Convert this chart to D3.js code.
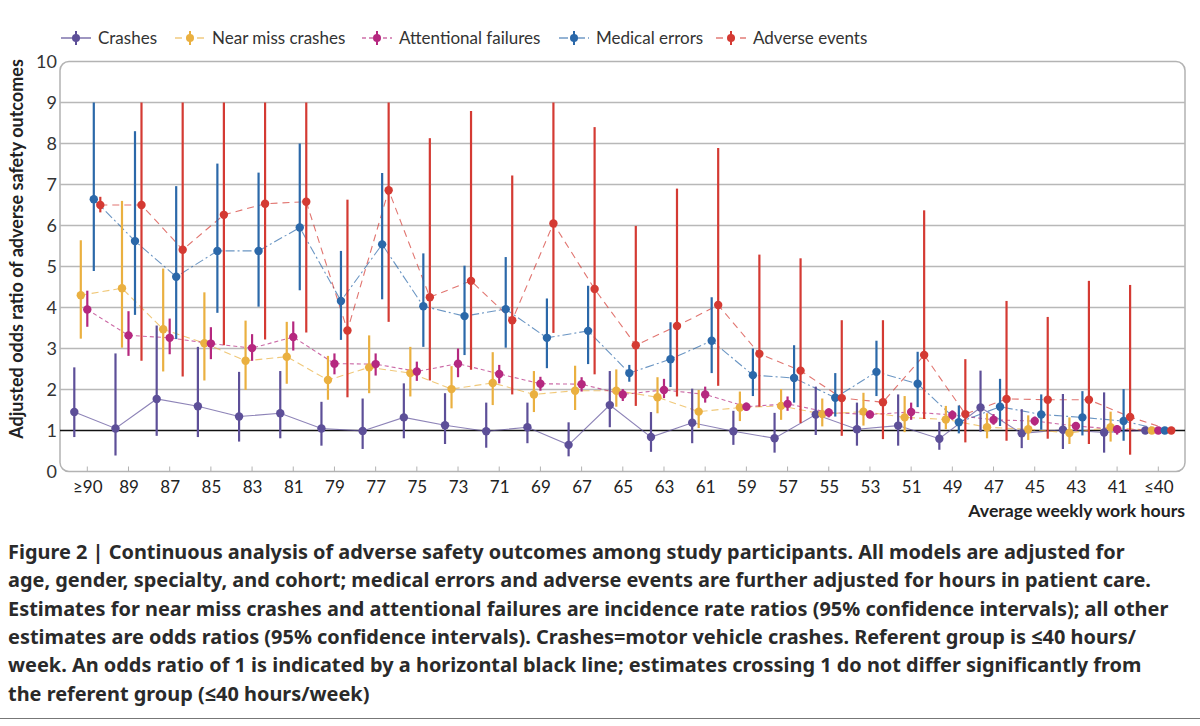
<!DOCTYPE html>
<html>
<head>
<meta charset="utf-8">
<script src="https://cdn.jsdelivr.net/npm/d3@7"></script>
<style>
  html, body { margin: 0; padding: 0; background: #fff; }
  svg { display: block; }
  text { font-family: Lato, "Open Sans", sans-serif; }
</style>
</head>
<body>
<svg id="chart" width="1200" height="726"></svg>
<script>
// ---- data ----
const categories = ["≥90","89","87","85","83","81","79","77","75","73","71","69","67","65","63","61","59","57","55","53","51","49","47","45","43","41","≤40"];
const yTicks = [0,1,2,3,4,5,6,7,8,9,10];
const seriesNames = ["Crashes","Near miss crashes","Attentional failures","Medical errors","Adverse events"];

const crashesEst = [1.45,1.05,1.77,1.59,1.34,1.42,1.05,0.99,1.32,1.13,0.98,1.08,0.65,1.62,0.84,1.19,0.98,0.81,1.39,1.03,1.12,0.80,1.56,0.93,1.02,0.95,1.00];
const crashesLo  = [0.84,0.39,0.87,0.84,0.73,0.81,0.63,0.55,0.81,0.67,0.58,0.69,0.37,1.08,0.48,0.69,0.65,0.46,0.89,0.63,0.63,0.53,0.97,0.57,0.55,0.46,null];
const crashesHi  = [2.54,2.88,3.56,3.04,2.43,2.45,1.70,1.78,2.15,1.91,1.68,1.68,1.20,2.45,1.45,2.02,1.48,1.43,2.07,1.68,1.88,1.21,2.46,1.52,1.89,1.93,null];

const nearMissEst = [4.30,4.47,3.47,3.13,2.70,2.80,2.23,2.54,2.40,2.01,2.16,1.88,1.97,1.97,1.81,1.46,1.56,1.60,1.40,1.46,1.32,1.27,1.08,1.03,0.94,1.08,1.00];
const nearMissLo  = [3.24,3.02,2.44,2.22,1.99,2.14,1.75,1.91,1.83,1.54,1.62,1.45,1.50,1.58,1.42,1.06,1.23,1.26,1.10,1.12,0.96,1.03,0.81,0.77,0.67,0.73,null];
const nearMissHi  = [5.64,6.60,4.95,4.37,3.68,3.65,2.82,3.32,3.04,2.57,2.91,2.45,2.58,2.49,2.30,1.99,1.95,2.01,1.78,1.92,1.84,1.60,1.42,1.37,1.32,1.46,null];

const attentionEst = [3.95,3.32,3.26,3.12,3.01,3.28,2.63,2.62,2.44,2.63,2.38,2.14,2.13,1.88,1.99,1.88,1.58,1.65,1.44,1.39,1.45,1.38,1.26,1.23,1.11,1.03,1.00];
const attentionLo  = [3.53,2.82,2.86,2.74,2.70,2.95,2.37,2.34,2.21,2.30,2.15,1.97,1.95,1.72,1.79,1.68,1.49,1.48,1.32,1.30,1.26,1.26,1.14,1.12,1.00,0.90,null];
const attentionHi  = [4.41,3.91,3.73,3.52,3.35,3.66,2.88,2.88,2.68,3.00,2.60,2.31,2.30,2.01,2.26,2.07,1.68,1.83,1.54,1.49,1.68,1.49,1.40,1.34,1.20,1.13,null];

const medicalEst = [6.64,5.62,4.75,5.38,5.38,5.95,4.16,5.54,4.03,3.79,3.96,3.26,3.43,2.40,2.74,3.19,2.35,2.28,1.80,2.43,2.14,1.20,1.58,1.39,1.32,1.23,1.00];
const medicalLo  = [4.89,3.82,3.23,3.87,4.02,4.42,3.21,4.20,3.04,2.84,3.02,2.52,2.62,2.19,2.06,2.40,1.84,1.68,1.34,1.84,1.57,0.93,1.11,1.02,0.88,0.75,null];
const medicalHi  = [9.00,8.30,6.96,7.51,7.29,8.00,5.38,7.28,5.32,5.02,5.23,4.22,4.53,2.60,3.64,4.25,3.00,3.08,2.40,3.19,2.92,1.61,2.26,1.88,1.96,2.01,null];

const adverseEst = [6.50,6.50,5.41,6.26,6.53,6.58,3.44,6.86,4.25,4.65,3.69,6.05,4.45,3.08,3.55,4.06,2.87,2.46,1.79,1.69,2.84,1.40,1.77,1.75,1.75,1.33,1.00];
const adverseLo  = [6.32,2.70,2.32,3.08,3.22,3.39,1.81,3.65,2.22,2.48,1.88,3.38,2.37,1.60,1.83,2.09,1.58,1.18,0.87,0.79,1.28,0.71,0.75,0.80,0.67,0.41,null];
const adverseHi  = [6.70,9.00,9.00,9.00,9.00,9.00,6.63,9.00,8.13,8.79,7.22,9.00,8.40,5.99,6.90,7.89,5.29,5.20,3.69,3.69,6.37,2.74,4.16,3.77,4.65,4.55,null];

const captionLines = [
  "Figure 2 | Continuous analysis of adverse safety outcomes among study participants. All models are adjusted for",
  "age, gender, specialty, and cohort; medical errors and adverse events are further adjusted for hours in patient care.",
  "Estimates for near miss crashes and attentional failures are incidence rate ratios (95% confidence intervals); all other",
  "estimates are odds ratios (95% confidence intervals). Crashes=motor vehicle crashes. Referent group is ≤40 hours/",
  "week. An odds ratio of 1 is indicated by a horizontal black line; estimates crossing 1 do not differ significantly from",
  "the referent group (≤40 hours/week)"
];

// ---- styles ----
const colors = ["#5d4f98","#eab040","#b5287f","#2b68a9","#d43a33"];
const dashes = [null,"7,4","4,3","9,3,2,3","7,5"];
const offsets = [-13,-6.5,0,6.5,13];

const series = [
  {est: crashesEst, lo: crashesLo, hi: crashesHi},
  {est: nearMissEst, lo: nearMissLo, hi: nearMissHi},
  {est: attentionEst, lo: attentionLo, hi: attentionHi},
  {est: medicalEst, lo: medicalLo, hi: medicalHi},
  {est: adverseEst, lo: adverseLo, hi: adverseHi}
].map((s, i) => ({
  name: seriesNames[i], color: colors[i], dash: dashes[i], off: offsets[i],
  points: categories.map((c, j) => ({cat: c, est: s.est[j], lo: s.lo[j], hi: s.hi[j]}))
}));

const svg = d3.select("#chart");
svg.append("rect").attr("width",1200).attr("height",726).attr("fill","#fff");

const L = 60, R = 1185, T = 61.5, B = 471.5;
const x = d3.scalePoint().domain(categories).range([87.3, 1158.3]);
const y = d3.scaleLinear().domain([0,10]).range([B, T]);

// frame
svg.append("rect").attr("x",L).attr("y",T).attr("width",R-L).attr("height",B-T)
  .attr("rx",9).attr("fill","none").attr("stroke","#b3b3b3").attr("stroke-width",1.5);

// gridlines
svg.append("g").selectAll("line").data(yTicks.filter(v => v > 0 && v < 10)).join("line")
  .attr("x1",L).attr("x2",R).attr("y1",d=>y(d)).attr("y2",d=>y(d))
  .attr("stroke",d => d===1 ? "#111" : "#b8b8b8").attr("stroke-width",1.5);

// y axis labels
const yAxis = d3.axisLeft(y).tickValues(yTicks).tickSize(0).tickPadding(0).tickFormat(d3.format("d"));
const gy = svg.append("g").attr("transform",`translate(${L-3},0)`).call(yAxis);
gy.select(".domain").remove();
gy.selectAll("text").attr("font-size",18).attr("fill","#333").attr("font-family","Lato, sans-serif");

// x axis labels
const xAxis = d3.axisBottom(x).tickSize(0).tickPadding(0);
const gx = svg.append("g").attr("transform",`translate(0,${B+9})`).call(xAxis);
gx.select(".domain").remove();
gx.selectAll("text").attr("font-size",17).attr("fill","#222").attr("font-family","Lato, sans-serif");

// small ticks on bottom frame
svg.append("g").selectAll("line").data(categories).join("line")
  .attr("x1",d=>x(d)).attr("x2",d=>x(d)).attr("y1",B-5).attr("y2",B)
  .attr("stroke","#b3b3b3").attr("stroke-width",1);

// connecting lines
const lineGen = d3.line().x(d=>d.x).y(d=>y(d.est));
series.forEach(s => {
  const pts = s.points.map(p => ({x: x(p.cat) + s.off, est: p.est}));
  svg.append("path").datum(pts).attr("d", lineGen)
    .attr("fill","none").attr("stroke", s.color).attr("stroke-width",1.1)
    .attr("stroke-opacity",0.7).attr("stroke-dasharray", s.dash);
});

// error bars and points
series.forEach(s => {
  const g = svg.append("g");
  g.selectAll("line").data(s.points.filter(p => p.lo != null)).join("line")
    .attr("x1",p=>x(p.cat)+s.off).attr("x2",p=>x(p.cat)+s.off)
    .attr("y1",p=>y(p.lo)).attr("y2",p=>y(p.hi))
    .attr("stroke",s.color).attr("stroke-width",2.2);
  g.selectAll("circle").data(s.points).join("circle")
    .attr("cx",p=>x(p.cat)+s.off).attr("cy",p=>y(p.est)).attr("r",4.2)
    .attr("fill",s.color);
});

// legend
const legendX = [76, 190, 377, 574, 731];
const lg = svg.append("g");
series.forEach((s, i) => {
  const cx = legendX[i], cy = 38;
  lg.append("line").attr("x1",cx-15).attr("x2",cx+15).attr("y1",cy).attr("y2",cy)
    .attr("stroke",s.color).attr("stroke-width",1.2).attr("stroke-dasharray",s.dash);
  lg.append("line").attr("x1",cx).attr("x2",cx).attr("y1",cy-7).attr("y2",cy+7)
    .attr("stroke",s.color).attr("stroke-width",2);
  lg.append("circle").attr("cx",cx).attr("cy",cy).attr("r",4).attr("fill",s.color);
  lg.append("text").attr("x",cx+22).attr("y",cy).attr("dy","0.35em")
    .attr("font-size",17).attr("fill","#333").text(s.name);
});

// axis titles
svg.append("text").attr("transform","translate(23,249) rotate(-90)")
  .attr("text-anchor","middle").attr("font-size",18).attr("font-weight","bold")
  .attr("fill","#222").text("Adjusted odds ratio of adverse safety outcomes");
svg.append("text").attr("x",1185).attr("y",517).attr("text-anchor","end")
  .attr("font-size",17.7).attr("font-weight","bold").attr("fill","#222")
  .text("Average weekly work hours");

// caption: fit font size so first line spans the same width as the original
const cap = svg.append("g");
const capTexts = cap.selectAll("text").data(captionLines).join("text")
  .attr("x",8).attr("y",(d,i)=>559 + i*28.3)
  .style("font-family","'Noto Sans', 'Open Sans', Lato, sans-serif")
  .attr("font-size",19).attr("font-weight","bold").attr("fill","#2a2a2a")
  .text(d=>d);
const w0 = capTexts.node().getComputedTextLength();
if (w0 > 0) {
  const fs = Math.max(15, Math.min(24, 19 * 1117 / w0));
  capTexts.attr("font-size", fs);
}

// bottom rule
svg.append("line").attr("x1",0).attr("x2",1200).attr("y1",718.5).attr("y2",718.5)
  .attr("stroke","#777").attr("stroke-width",1);
</script>
</body>
</html>
